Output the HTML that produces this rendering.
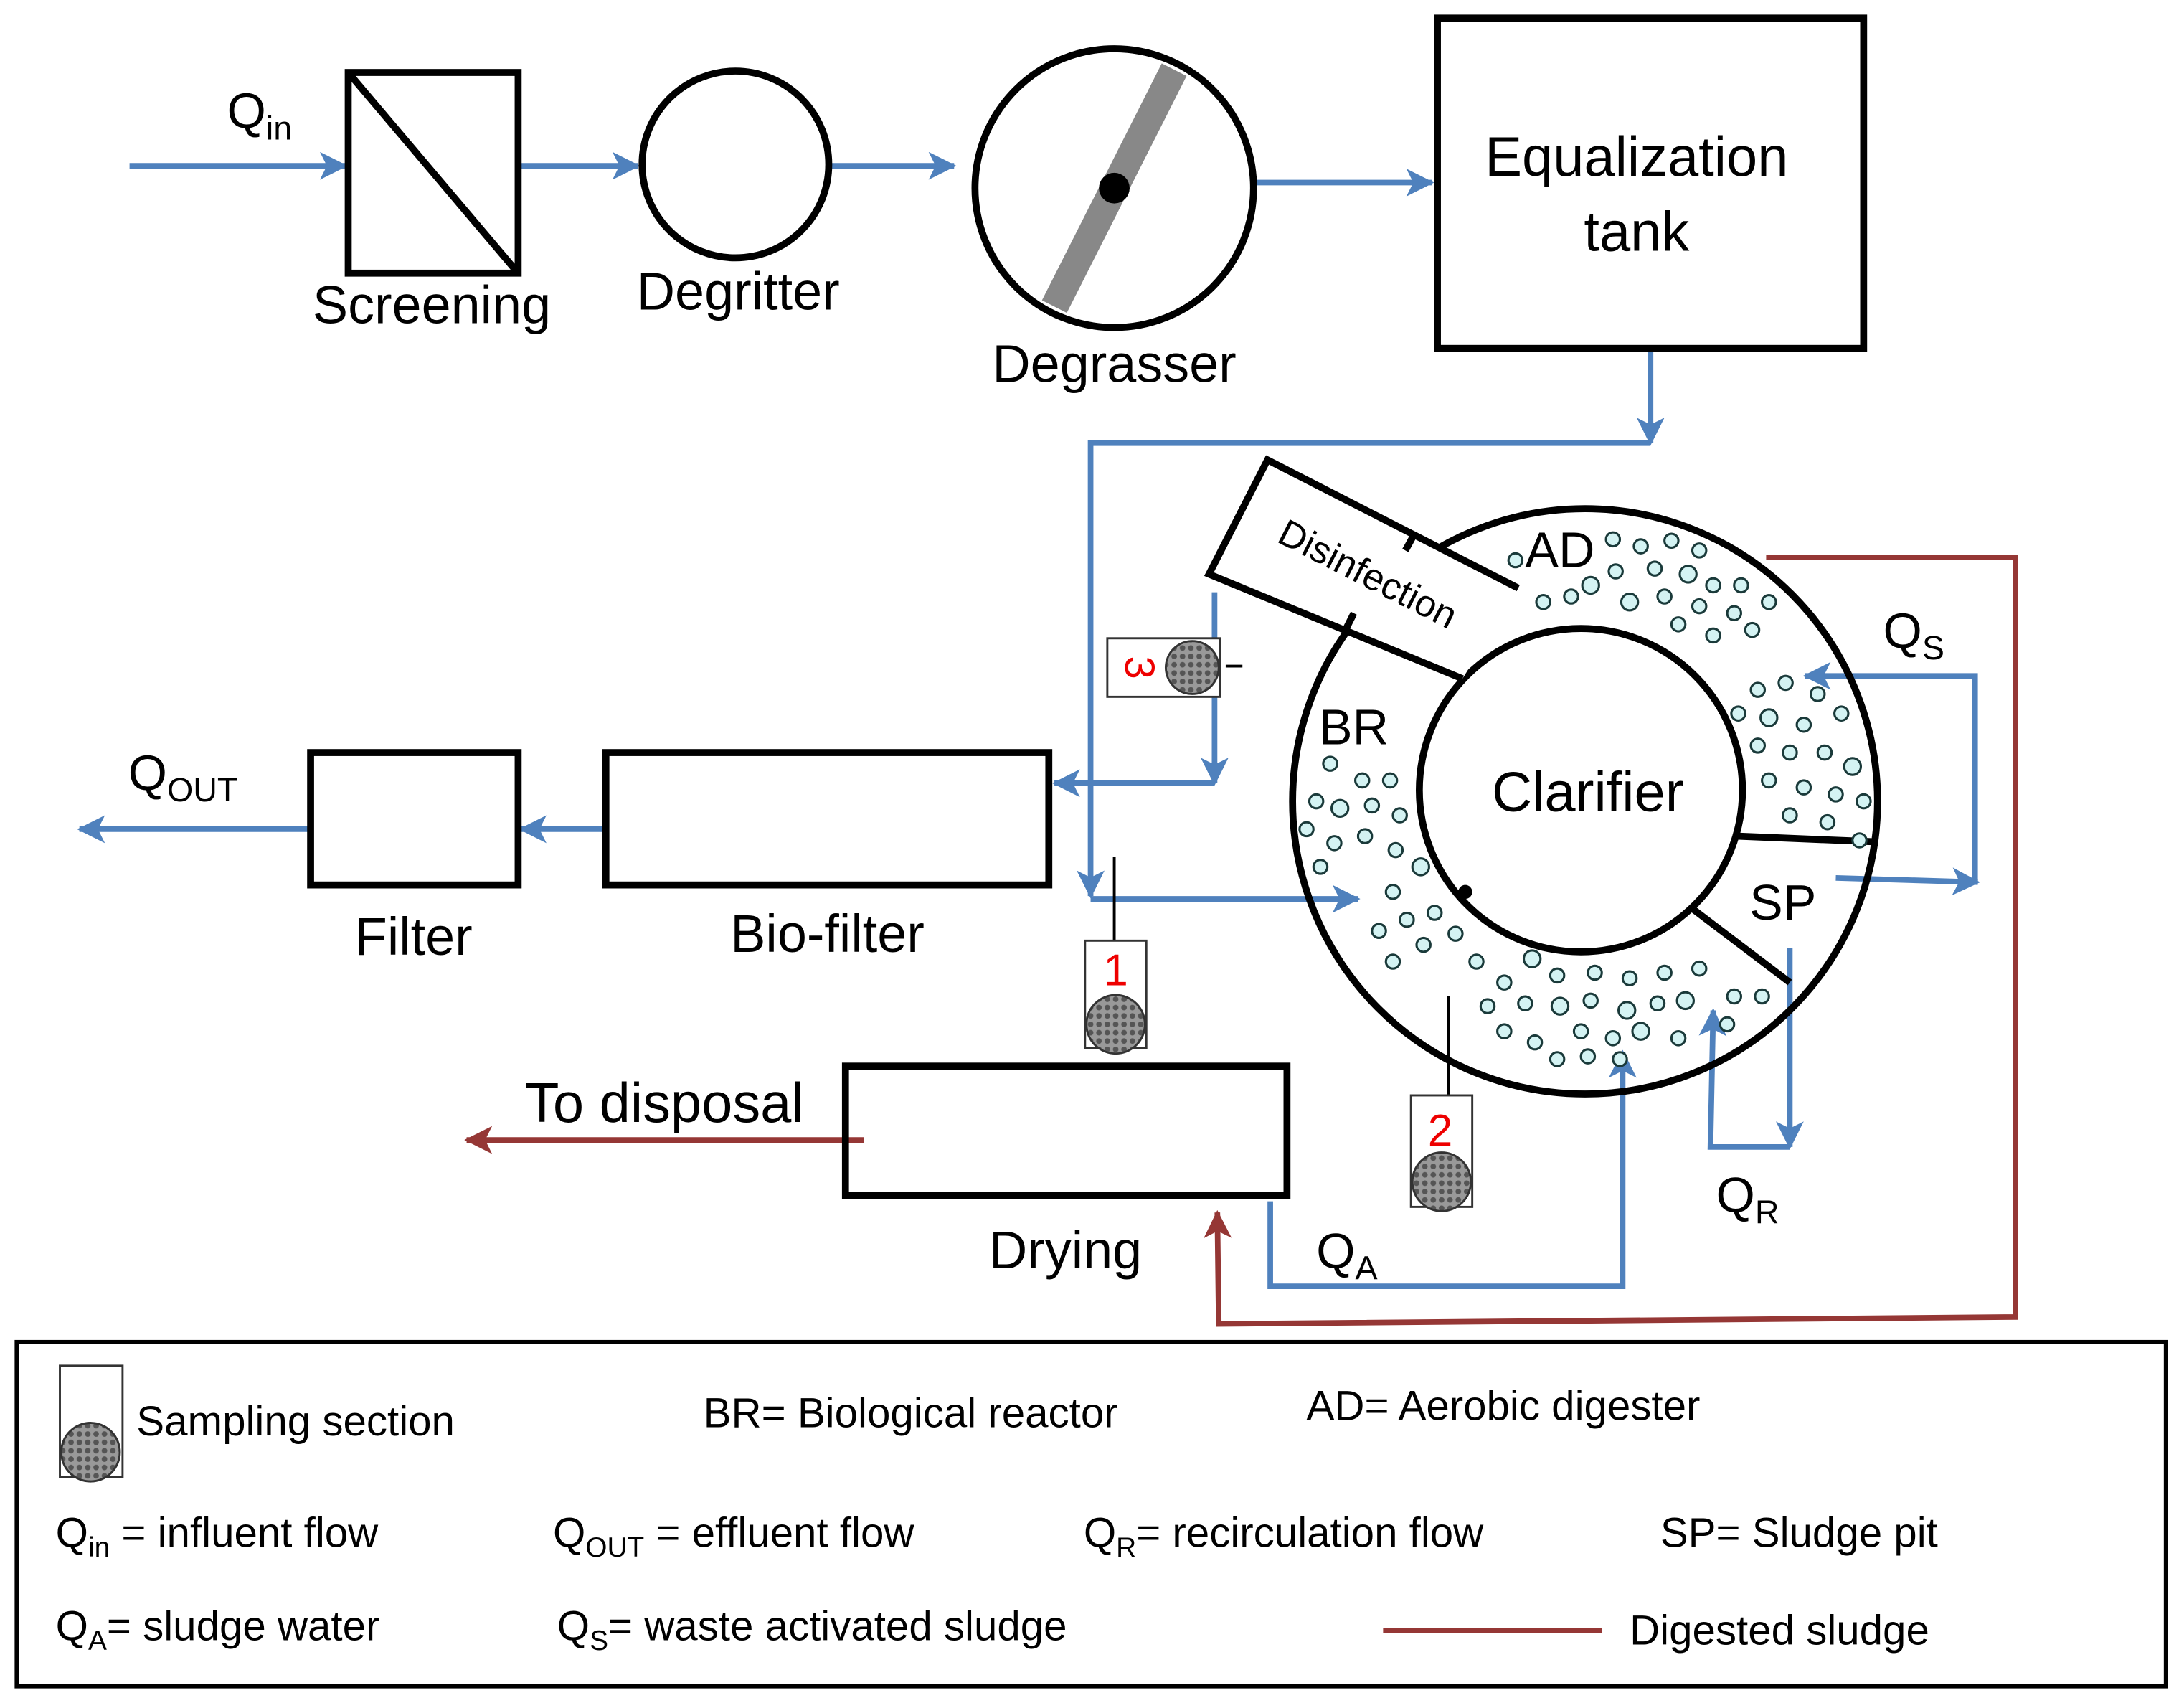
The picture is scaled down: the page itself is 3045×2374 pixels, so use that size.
<!DOCTYPE html>
<html><head><meta charset="utf-8">
<style>
html,body{margin:0;padding:0;background:#fff;}
svg{display:block;}
text{font-family:"Liberation Sans",sans-serif;fill:#000;}
</style></head>
<body>
<svg width="3045" height="2374" viewBox="0 0 1568 1222" preserveAspectRatio="none" xmlns="http://www.w3.org/2000/svg">
<defs>
<marker id="ab" viewBox="0 0 12 12" refX="11" refY="6" markerWidth="5" markerHeight="5" orient="auto" markerUnits="strokeWidth">
<path d="M0,0 L12,6 L0,12 L3,6 Z" fill="#4f81bd"/></marker>
<marker id="ar" viewBox="0 0 12 12" refX="11" refY="6" markerWidth="5" markerHeight="5" orient="auto" markerUnits="strokeWidth">
<path d="M0,0 L12,6 L0,12 L3,6 Z" fill="#953735"/></marker>
<pattern id="mesh" width="6" height="6" patternUnits="userSpaceOnUse">
<rect width="6" height="6" fill="#999"/><circle cx="3" cy="3" r="2" fill="#555"/></pattern>
</defs>
<rect width="1568" height="1222" fill="#fff"/>
<g stroke="#4f81bd" stroke-width="4" fill="none">
<line x1="93" y1="119" x2="248" y2="119" marker-end="url(#ab)"/>
<line x1="372" y1="119" x2="458" y2="119" marker-end="url(#ab)"/>
<line x1="597" y1="119" x2="685" y2="119" marker-end="url(#ab)"/>
<line x1="902" y1="131" x2="1028" y2="131" marker-end="url(#ab)"/>
<polyline points="1185,252 1185,318" marker-end="url(#ab)"/>
<polyline points="1185,318 783,318 783,643" marker-end="url(#ab)"/>
<line x1="783" y1="645" x2="975" y2="645" marker-end="url(#ab)"/>
<polyline points="872,425 872,562" marker-end="url(#ab)"/>
<line x1="872" y1="562" x2="757" y2="562" marker-end="url(#ab)"/>
<line x1="435" y1="595" x2="374" y2="595" marker-end="url(#ab)"/>
<line x1="223" y1="595" x2="57" y2="595" marker-end="url(#ab)"/>
<polyline points="1418,632 1418,485 1296,485" marker-end="url(#ab)"/>
<line x1="1318" y1="630" x2="1420" y2="633" marker-end="url(#ab)"/>
<polyline points="1285,680 1285,823" marker-end="url(#ab)"/>
<polyline points="1285,823 1228,823 1230,725" marker-end="url(#ab)"/>
<polyline points="912,862 912,923 1165,923 1165,755" marker-end="url(#ab)"/>
</g>
<g stroke="#953735" stroke-width="4" fill="none">
<polyline points="1268,400 1447,400 1447,945 875,950 874,870" marker-end="url(#ar)"/>
<line x1="620" y1="818" x2="335" y2="818" marker-end="url(#ar)"/>
<line x1="993" y1="1170" x2="1150" y2="1170"/>
</g>
<g stroke="#000" stroke-width="5" fill="none">
<rect x="250" y="52" width="122" height="144"/>
<line x1="250" y1="52" x2="372" y2="196"/>
<circle cx="528" cy="118" r="67"/>
<rect x="1032" y="13" width="306" height="237"/>
<rect x="435" y="540" width="318" height="95"/>
<rect x="223" y="540" width="149" height="95"/>
<rect x="607" y="765" width="317" height="93"/>
<circle cx="1138" cy="575" r="210"/>
<circle cx="1135" cy="567" r="116"/>
<line x1="1248" y1="600" x2="1345" y2="604"/>
<line x1="1215" y1="652" x2="1285" y2="705"/>
</g>
<polygon points="910,330 868,412 1050,487 1090,422" fill="#fff"/>
<g stroke="#000" stroke-width="5" fill="none">
<polyline points="1090,422 910,330 868,412 1050,487"/>
<line x1="1015" y1="384" x2="1009" y2="395"/>
<line x1="966" y1="452" x2="972" y2="440"/>
</g>
<line x1="843" y1="50" x2="757" y2="220" stroke="#888" stroke-width="20"/>
<circle cx="800" cy="135" r="100" fill="none" stroke="#000" stroke-width="5"/>
<circle cx="800" cy="135" r="11" fill="#000"/>
<circle cx="1052" cy="640" r="5" fill="#000"/>
<g stroke="#000" stroke-width="2">
<line x1="800" y1="615" x2="800" y2="675"/>
<line x1="1040" y1="715" x2="1040" y2="790"/>
<line x1="880" y1="478" x2="892" y2="478"/>
</g>
<g fill="#d4f3f3" stroke="#1a3a3a" stroke-width="1.6">
<circle cx="1088" cy="402" r="5"/><circle cx="1158" cy="387" r="5"/><circle cx="1178" cy="392" r="5"/><circle cx="1200" cy="388" r="5"/><circle cx="1220" cy="395" r="5"/>
<circle cx="1142" cy="420" r="6"/><circle cx="1160" cy="410" r="5"/><circle cx="1188" cy="408" r="5"/><circle cx="1212" cy="412" r="6"/><circle cx="1230" cy="420" r="5"/>
<circle cx="1108" cy="432" r="5"/><circle cx="1128" cy="428" r="5"/><circle cx="1170" cy="432" r="6"/><circle cx="1195" cy="428" r="5"/><circle cx="1220" cy="435" r="5"/><circle cx="1245" cy="440" r="5"/>
<circle cx="1205" cy="448" r="5"/><circle cx="1230" cy="456" r="5"/><circle cx="1258" cy="452" r="5"/><circle cx="1270" cy="432" r="5"/><circle cx="1250" cy="420" r="5"/>
<circle cx="1262" cy="495" r="5"/><circle cx="1282" cy="490" r="5"/><circle cx="1305" cy="498" r="5"/><circle cx="1248" cy="512" r="5"/><circle cx="1270" cy="515" r="6"/><circle cx="1295" cy="520" r="5"/>
<circle cx="1322" cy="512" r="5"/><circle cx="1262" cy="535" r="5"/><circle cx="1285" cy="540" r="5"/><circle cx="1310" cy="540" r="5"/><circle cx="1330" cy="550" r="6"/>
<circle cx="1270" cy="560" r="5"/><circle cx="1295" cy="565" r="5"/><circle cx="1318" cy="570" r="5"/><circle cx="1338" cy="575" r="5"/><circle cx="1285" cy="585" r="5"/><circle cx="1312" cy="590" r="5"/><circle cx="1335" cy="603" r="5"/>
<circle cx="955" cy="548" r="5"/><circle cx="978" cy="560" r="5"/><circle cx="998" cy="560" r="5"/><circle cx="945" cy="575" r="5"/><circle cx="962" cy="580" r="6"/><circle cx="985" cy="578" r="5"/><circle cx="1005" cy="585" r="5"/>
<circle cx="938" cy="595" r="5"/><circle cx="958" cy="605" r="5"/><circle cx="980" cy="600" r="5"/><circle cx="1002" cy="610" r="5"/><circle cx="948" cy="622" r="5"/><circle cx="1020" cy="622" r="6"/>
<circle cx="1000" cy="640" r="5"/><circle cx="990" cy="668" r="5"/><circle cx="1010" cy="660" r="5"/><circle cx="1030" cy="655" r="5"/><circle cx="1000" cy="690" r="5"/><circle cx="1022" cy="678" r="5"/><circle cx="1045" cy="670" r="5"/>
<circle cx="1060" cy="690" r="5"/><circle cx="1100" cy="688" r="6"/><circle cx="1080" cy="705" r="5"/><circle cx="1118" cy="700" r="5"/><circle cx="1145" cy="698" r="5"/><circle cx="1170" cy="702" r="5"/><circle cx="1195" cy="698" r="5"/><circle cx="1220" cy="695" r="5"/>
<circle cx="1068" cy="722" r="5"/><circle cx="1095" cy="720" r="5"/><circle cx="1120" cy="722" r="6"/><circle cx="1142" cy="718" r="5"/><circle cx="1168" cy="725" r="6"/><circle cx="1190" cy="720" r="5"/><circle cx="1210" cy="718" r="6"/><circle cx="1245" cy="715" r="5"/><circle cx="1265" cy="715" r="5"/>
<circle cx="1080" cy="740" r="5"/><circle cx="1102" cy="748" r="5"/><circle cx="1135" cy="740" r="5"/><circle cx="1158" cy="745" r="5"/><circle cx="1178" cy="740" r="6"/><circle cx="1205" cy="745" r="5"/><circle cx="1240" cy="735" r="5"/>
<circle cx="1118" cy="760" r="5"/><circle cx="1140" cy="758" r="5"/><circle cx="1163" cy="760" r="5"/>
</g>
<g stroke="#333" stroke-width="1.5">
<rect x="795" y="458" width="81" height="42" fill="#fff"/>
<circle cx="856" cy="479" r="19" fill="url(#mesh)"/>
<rect x="779" y="675" width="44" height="77" fill="#fff"/>
<circle cx="801" cy="735" r="21" fill="url(#mesh)"/>
<rect x="1013" y="786" width="44" height="80" fill="#fff"/>
<circle cx="1035" cy="848" r="21" fill="url(#mesh)"/>
<rect x="43" y="980" width="45" height="80" fill="#fff"/>
<circle cx="65" cy="1042" r="21" fill="url(#mesh)"/>
</g>
<text x="818" y="479" font-size="30" style="fill:#e00" text-anchor="middle" transform="rotate(90 818 479)" dy="10">3</text>
<text x="801" y="707" font-size="32" style="fill:#e00" text-anchor="middle">1</text>
<text x="1034" y="822" font-size="32" style="fill:#e00" text-anchor="middle">2</text>
<g font-size="38" text-anchor="middle">
<text x="310" y="232">Screening</text>
<text x="530" y="222">Degritter</text>
<text x="800" y="274">Degrasser</text>
<text x="1175" y="126" font-size="40">Equalization</text>
<text x="1175" y="180" font-size="40">tank</text>
<text x="1140" y="582" font-size="40">Clarifier</text>
<text x="594" y="683">Bio-filter</text>
<text x="297" y="685">Filter</text>
<text x="765" y="910">Drying</text>
<text x="477" y="805" font-size="40">To disposal</text>
<text x="1120" y="407" font-size="36">AD</text>
<text x="972" y="534" font-size="36">BR</text>
<text x="1280" y="660" font-size="36">SP</text>
</g>
<text x="982" y="421" font-size="27" text-anchor="middle" transform="rotate(27 982 412)">Disinfection</text>
<g font-size="36">
<text x="163" y="92">Q<tspan font-size="24" dy="8">in</tspan></text>
<text x="92" y="567">Q<tspan font-size="24" dy="8">OUT</tspan></text>
<text x="1352" y="465">Q<tspan font-size="24" dy="8">S</tspan></text>
<text x="1232" y="870">Q<tspan font-size="24" dy="8">R</tspan></text>
<text x="945" y="910">Q<tspan font-size="24" dy="8">A</tspan></text>
</g>
<rect x="12" y="963" width="1543" height="247" fill="none" stroke="#000" stroke-width="3"/>
<g font-size="30">
<text x="98" y="1030">Sampling section</text>
<text x="505" y="1024">BR= Biological reactor</text>
<text x="938" y="1019">AD= Aerobic digester</text>
<text x="40" y="1110">Q<tspan font-size="20" dy="7">in</tspan><tspan dy="-7"> = influent flow</tspan></text>
<text x="397" y="1110">Q<tspan font-size="20" dy="7">OUT</tspan><tspan dy="-7"> = effluent flow</tspan></text>
<text x="778" y="1110">Q<tspan font-size="20" dy="7">R</tspan><tspan dy="-7">= recirculation flow</tspan></text>
<text x="1192" y="1110">SP= Sludge pit</text>
<text x="40" y="1177">Q<tspan font-size="20" dy="7">A</tspan><tspan dy="-7">= sludge water</tspan></text>
<text x="400" y="1177">Q<tspan font-size="20" dy="7">S</tspan><tspan dy="-7">= waste activated sludge</tspan></text>
<text x="1170" y="1180">Digested sludge</text>
</g>
</svg>
</body></html>
